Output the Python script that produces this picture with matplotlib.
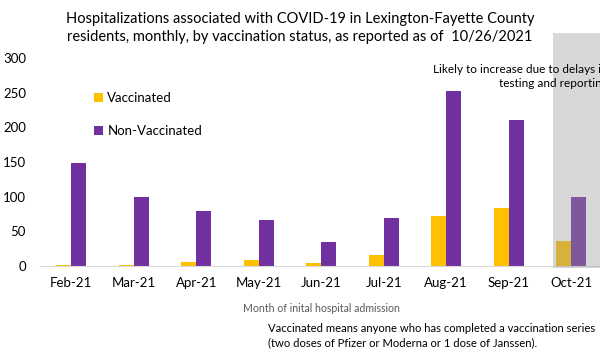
import matplotlib.pyplot as plt
import numpy as np
from matplotlib.patches import Rectangle

plt.rcParams['font.family'] = ['Lato', 'DejaVu Sans']

# Data
months = ["Feb-21", "Mar-21", "Apr-21", "May-21", "Jun-21", "Jul-21", "Aug-21", "Sep-21", "Oct-21"]
vaccinated = [1, 1, 6, 8, 5, 16, 72, 83, 36]
non_vaccinated = [148, 100, 79, 66, 35, 69, 252, 210, 99]
yticks = [0, 50, 100, 150, 200, 250, 300]

YELLOW = "#FFC000"
PURPLE = "#7030A0"

fig = plt.figure(figsize=(6, 3.5), dpi=100)
ax = fig.add_axes([40 / 600, 84 / 350, 562.5 / 600, 208 / 350])

x = np.arange(len(months))
w = 0.24
ax.bar(x - w / 2, vaccinated, width=w, color=YELLOW, label="Vaccinated", zorder=2)
ax.bar(x + w / 2, non_vaccinated, width=w, color=PURPLE, label="Non-Vaccinated", zorder=2)

ax.set_xlim(-0.5, len(months) - 0.5)
ax.set_ylim(0, 300)
ax.set_xticks(x)
ax.set_xticklabels(months, fontsize=9.5)
ax.set_yticks(yticks)
ax.tick_params(axis='y', labelsize=9.5, length=0, pad=10)
ax.tick_params(axis='x', length=0, pad=8)

for side in ["top", "right", "left"]:
    ax.spines[side].set_visible(False)
ax.spines["bottom"].set_color("#D9D9D9")

# shaded region for the incomplete month
ax.add_patch(Rectangle((7.71, -3), 2, 339, facecolor="#999999", alpha=0.38,
                       edgecolor="none", clip_on=False, zorder=3))
ax.text(8.58, 273, "Likely to increase due to delays in\ntesting and reporting",
        ha="right", va="center", fontsize=8.5, linespacing=1.35, zorder=4)

ax.set_xlabel("Month of inital hospital admission", fontsize=7.6, color="#595959", labelpad=10)
ax.set_ylabel("Number of Cases", fontsize=8, color="#595959", labelpad=6)

leg = ax.legend(loc="upper left", bbox_to_anchor=(0.075, 0.894), frameon=False,
                fontsize=9.5, handlelength=0.7, handleheight=0.7, handletextpad=0.3,
                labelspacing=1.6)

fig.text(0.5, 0.965, "Hospitalizations associated with COVID-19 in Lexington-Fayette County\n"
         "residents, monthly, by vaccination status, as reported as of  10/26/2021",
         ha="center", va="top", fontsize=10.5, linespacing=1.3)

fig.text(268 / 600, 1 - 335.5 / 350,
         "Vaccinated means anyone who has completed a vaccination series\n"
         "(two doses of Pfizer or Moderna or 1 dose of Janssen).",
         ha="left", va="center", fontsize=8.1, linespacing=1.35)

fig.savefig("out.png", dpi=100)
